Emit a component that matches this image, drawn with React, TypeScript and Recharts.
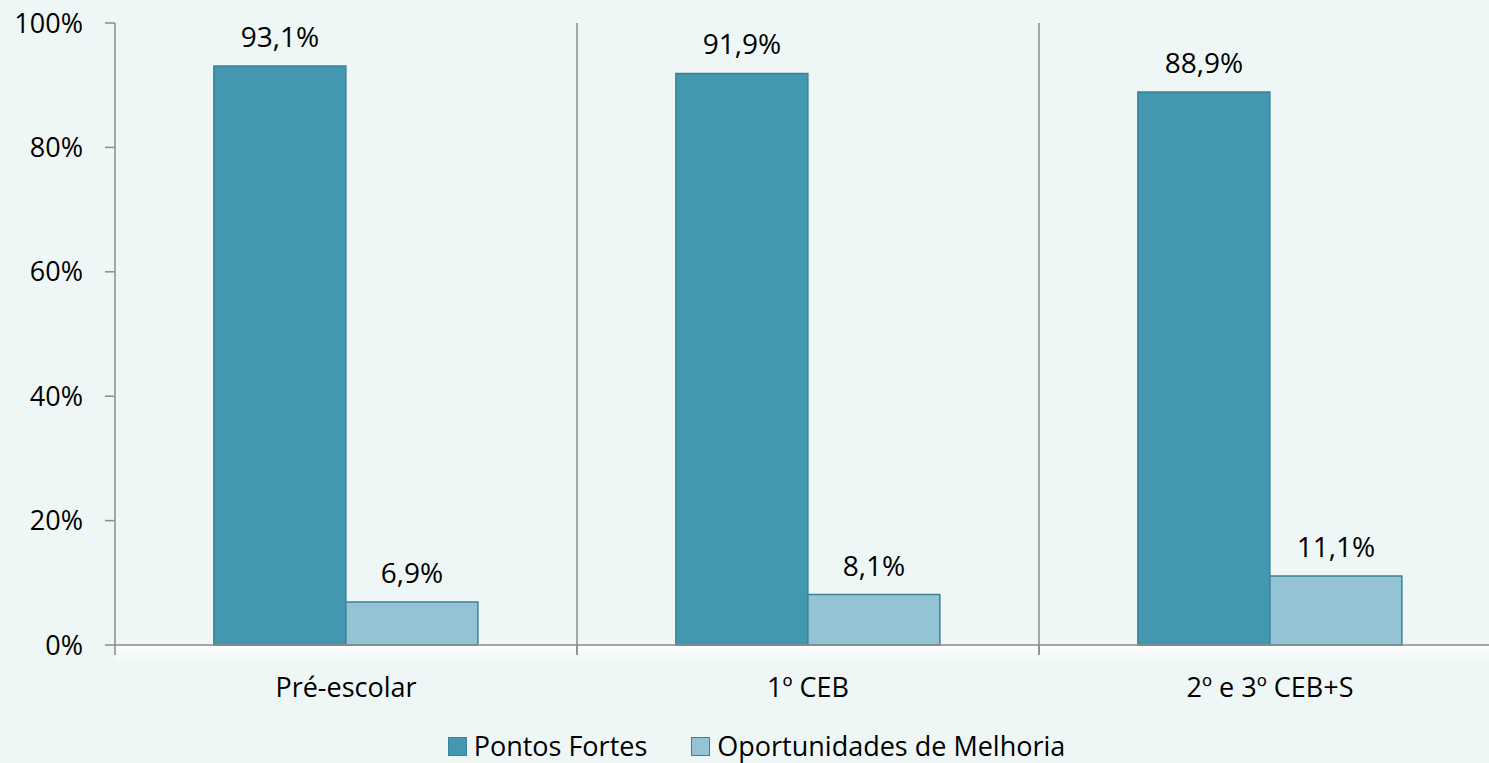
// Pontos Fortes vs Oportunidades de Melhoria por nível de ensino
import { BarChart, Bar, XAxis, YAxis, CartesianGrid, Legend, LabelList } from 'recharts'

const categories = ['Pré-escolar', '1º CEB', '2º e 3º CEB+S']
const pontosFortes = [93.1, 91.9, 88.9]
const oportunidades = [6.9, 8.1, 11.1]
const yTicks = [0, 20, 40, 60, 80, 100]

const seriesNames = ['Pontos Fortes', 'Oportunidades de Melhoria']
const COLORS = ['#4397AE', '#93C3D4']
const BAR_STROKE = '#3A8298'
const AXIS = '#8C8C8C'
const FONT = '"Open Sans", "Noto Sans", sans-serif'

const CHART_W = 1501
const CHART_H = 763
const PLOT_LEFT = 115
const PLOT_W = CHART_W - PLOT_LEFT
const BAND = PLOT_W / categories.length

const data = categories.map((c, i) => ({
  name: c,
  fortes: pontosFortes[i],
  melhoria: oportunidades[i],
}))

const fmt = (v: number) => `${v.toFixed(1).replace('.', ',')}%`

function XTick(props: any) {
  const { x, y, payload } = props
  return (
    <g>
      <line x1={x - BAND / 2} x2={x - BAND / 2} y1={y - 8} y2={y + 2} stroke={AXIS} strokeWidth={1.5} />
      <line x1={x + BAND / 2} x2={x + BAND / 2} y1={y - 8} y2={y + 2} stroke={AXIS} strokeWidth={1.5} />
      <text x={x} y={y + 44} textAnchor="middle" fontSize={27} fontFamily={FONT} fill="#000">
        {payload.value}
      </text>
    </g>
  )
}

function BarLabel(props: any) {
  const { x, y, width, value } = props
  return (
    <text x={x + width / 2} y={y - 19} textAnchor="middle" fontSize={28} fontFamily={FONT} fill="#000">
      {fmt(value)}
    </text>
  )
}

function LegendContent() {
  return (
    <div style={{ display: 'flex', justifyContent: 'center', paddingLeft: 12, paddingTop: 26, fontFamily: FONT, fontSize: 27 }}>
      {seriesNames.map((n, i) => (
        <div key={n} style={{ display: 'flex', alignItems: 'center', marginRight: i === 0 ? 44 : 0 }}>
          <span style={{ width: 17, height: 17, background: COLORS[i], border: `1.5px solid ${BAR_STROKE}`, marginRight: 7, display: 'inline-block' }} />
          <span style={{ color: '#000', lineHeight: '30px' }}>{n}</span>
        </div>
      ))}
    </div>
  )
}

export default function App() {
  return (
    <div style={{ position: 'absolute', left: 0, top: 0, width: 1489, height: 763, overflow: 'hidden', background: '#EFF7F6' }}>
      <div
        style={{
          position: 'absolute',
          left: PLOT_LEFT,
          top: 646,
          width: PLOT_W,
          height: 16,
          background: 'linear-gradient(#ffffff, rgba(255,255,255,0))',
        }}
      />
      <BarChart
        width={CHART_W}
        height={CHART_H}
        data={data}
        margin={{ top: 23, right: 0, bottom: 0, left: 0 }}
        barCategoryGap="21.4%"
        barGap={0}
      >
        <CartesianGrid
          horizontal={false}
          stroke={AXIS}
          strokeWidth={1.5}
          verticalCoordinatesGenerator={({ offset }: any) =>
            categories.slice(1).map((_, i) => offset.left + (offset.width * (i + 1)) / categories.length)
          }
        />
        <XAxis
          dataKey="name"
          height={60}
          axisLine={{ stroke: AXIS, strokeWidth: 1.5 }}
          tickLine={false}
          tick={<XTick />}
          interval={0}
        />
        <YAxis
          width={PLOT_LEFT}
          domain={[0, 100]}
          ticks={yTicks}
          tickFormatter={(v: number) => `${v}%`}
          axisLine={{ stroke: AXIS, strokeWidth: 1.5 }}
          tickLine={{ stroke: AXIS, strokeWidth: 1.5 }}
          tickSize={10}
          tickMargin={22}
          tick={{ fontSize: 27, fontFamily: FONT, fill: '#000' }}
        />
        <Legend verticalAlign="bottom" height={58} content={<LegendContent />} />
        <Bar dataKey="fortes" name={seriesNames[0]} fill={COLORS[0]} stroke={BAR_STROKE} strokeWidth={1.5} isAnimationActive={false}>
          <LabelList dataKey="fortes" content={<BarLabel />} />
        </Bar>
        <Bar dataKey="melhoria" name={seriesNames[1]} fill={COLORS[1]} stroke={BAR_STROKE} strokeWidth={1.5} isAnimationActive={false}>
          <LabelList dataKey="melhoria" content={<BarLabel />} />
        </Bar>
      </BarChart>
    </div>
  )
}
